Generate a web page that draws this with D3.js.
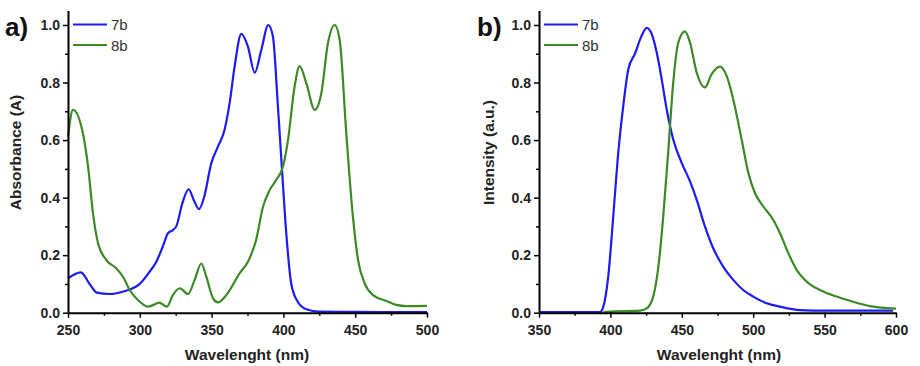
<!DOCTYPE html>
<html>
<head>
<meta charset="utf-8">
<script src="https://cdn.jsdelivr.net/npm/d3@7"></script>
<style>
  body { margin: 0; background: #fff; }
  svg { display: block; }
  .tick text { font-family: "Liberation Sans", Arial, sans-serif; font-weight: bold; font-size: 14px; fill: #222; }
</style>
</head>
<body>
<div id="chart"></div>
<script>
// a) absorption, wavelength (nm)
var absWl7b = [250, 259, 265, 270, 279, 288, 300, 306, 311.5, 316, 319.6, 323, 325.4, 329.6, 334, 337.7, 341.2, 344.7, 349.8, 354.4, 359, 362.6, 366, 370.7, 375.3, 380, 384.6, 389.5, 392.7, 396.2, 399.2, 402, 405.5, 410, 416, 425, 450, 500];
var absVal7b = [0.119, 0.14, 0.10, 0.07, 0.065, 0.073, 0.10, 0.137, 0.177, 0.23, 0.276, 0.287, 0.30, 0.38, 0.429, 0.39, 0.36, 0.40, 0.52, 0.577, 0.635, 0.73, 0.855, 0.969, 0.925, 0.834, 0.913, 1.0, 0.96, 0.716, 0.484, 0.276, 0.10, 0.038, 0.012, 0.004, 0.003, 0.002];
var absWl8b = [250, 253.5, 260.4, 264, 267.4, 271, 276.7, 283.7, 288.3, 293, 298.7, 305.7, 310, 313.5, 318.9, 323, 327.8, 333.6, 338.2, 342.8, 346.3, 351, 354.4, 360.2, 369.5, 375.3, 381, 385.8, 390.4, 395, 399.7, 403.2, 407.8, 411.3, 416, 421.8, 426.4, 431, 435.7, 439.2, 443.8, 448.4, 452, 456.6, 462.4, 471.7, 478.6, 485.6, 500];
var absVal8b = [0.612, 0.705, 0.623, 0.507, 0.345, 0.24, 0.183, 0.154, 0.125, 0.079, 0.044, 0.021, 0.028, 0.035, 0.021, 0.061, 0.085, 0.065, 0.114, 0.171, 0.125, 0.05, 0.036, 0.061, 0.137, 0.177, 0.253, 0.368, 0.426, 0.461, 0.508, 0.60, 0.786, 0.857, 0.797, 0.705, 0.762, 0.936, 1.0, 0.948, 0.623, 0.334, 0.183, 0.102, 0.061, 0.041, 0.027, 0.023, 0.024];

// b) emission
var emWl7b = [350, 392.7, 395, 398.5, 402, 405.5, 409, 412.6, 417.2, 421.9, 425.4, 428.9, 432.4, 435.9, 439.4, 444, 449.9, 455.7, 460.4, 466.2, 472, 479, 486, 493, 500, 509.4, 518.7, 532.7, 551.4, 598];
var emVal7b = [0.002, 0.002, 0.02, 0.126, 0.335, 0.556, 0.719, 0.847, 0.90, 0.963, 0.99, 0.969, 0.905, 0.812, 0.707, 0.602, 0.521, 0.457, 0.393, 0.30, 0.224, 0.16, 0.114, 0.079, 0.056, 0.033, 0.021, 0.009, 0.007, 0.007];
var emWl8b = [395, 399.7, 420.7, 425.4, 430, 433.6, 437, 440.6, 444, 447.6, 452.2, 455.7, 460.4, 466.2, 470.9, 476.7, 481.4, 486, 491.9, 496.6, 501.2, 507, 514, 518.7, 524.6, 530.4, 537.4, 546.8, 558.4, 570, 581.8, 600];
var emVal8b = [0.002, 0.004, 0.007, 0.015, 0.056, 0.16, 0.335, 0.567, 0.80, 0.94, 0.978, 0.94, 0.835, 0.783, 0.829, 0.855, 0.823, 0.742, 0.602, 0.486, 0.416, 0.37, 0.323, 0.277, 0.207, 0.149, 0.108, 0.079, 0.056, 0.038, 0.023, 0.014];

var seriesNames = ["7b", "8b"];
var yTicks = [0, 0.2, 0.4, 0.6, 0.8, 1.0];

var colors = { "7b": "#1c1cf2", "8b": "#3c8a26" };

var svg = d3.select("#chart").append("svg")
    .attr("width", 920).attr("height", 366);

function zip(xs, ys) {
    return xs.map(function (x, i) { return { x: x, y: ys[i] }; });
}

function drawPanel(opt) {
    var x = d3.scaleLinear().domain(opt.xDomain).range([opt.left, opt.right]);
    var y = d3.scaleLinear().domain([0, 1.05]).range([312.7, 10.6]);
    var g = svg.append("g");

    // lines
    var line = d3.line()
        .x(function (d) { return x(d.x) })
        .y(function (d) { return y(d.y) })
        .curve(d3.curveMonotoneX);
    opt.series.forEach(function (s) {
        g.append("path")
            .datum(zip(s.wl, s.val))
            .attr("fill", "none")
            .attr("stroke", colors[s.name])
            .attr("stroke-width", 2.2)
            .attr("d", line);
    });

    // minor ticks
    var xMinor = d3.range(opt.xDomain[0] + 25, opt.xDomain[1], 50);
    g.append("g").attr("transform", "translate(0,312.7)")
        .call(d3.axisBottom(x).tickValues(xMinor).tickSize(3).tickFormat(""))
        .call(function (a) { a.select(".domain").remove(); a.selectAll("line").attr("stroke-width", 1.5); });
    g.append("g").attr("transform", "translate(" + opt.left + ",0)")
        .call(d3.axisLeft(y).tickValues([0.1, 0.3, 0.5, 0.7, 0.9]).tickSize(3).tickFormat(""))
        .call(function (a) { a.select(".domain").remove(); a.selectAll("line").attr("stroke-width", 1.5); });

    // major axes
    var xTicks = d3.range(opt.xDomain[0], opt.xDomain[1] + 1, 50);
    g.append("g").attr("transform", "translate(0,312.7)")
        .call(d3.axisBottom(x).tickValues(xTicks).tickSize(5).tickSizeOuter(0).tickPadding(7))
        .call(function (a) {
            a.select(".domain").attr("stroke-width", 2);
            a.selectAll("line").attr("stroke-width", 1.5);
        });
    g.append("g").attr("transform", "translate(" + opt.left + ",0)")
        .call(d3.axisLeft(y).tickValues(yTicks).tickSize(5).tickSizeOuter(0).tickPadding(3).tickFormat(d3.format(".1f")))
        .call(function (a) {
            a.select(".domain").attr("stroke-width", 2);
            a.selectAll("line").attr("stroke-width", 1.5);
        });

    // axis titles
    g.append("text")
        .attr("x", opt.xTitleX).attr("y", 360)
        .attr("text-anchor", "middle")
        .style("font-family", "Liberation Sans, Arial, sans-serif")
        .style("font-weight", "bold").style("font-size", "15.5px").attr("fill", "#222")
        .text("Wavelenght (nm)");
    g.append("text")
        .attr("transform", "translate(" + opt.yTitleX + ",152.5) rotate(-90)")
        .attr("text-anchor", "middle")
        .style("font-family", "Liberation Sans, Arial, sans-serif")
        .style("font-weight", "bold").style("font-size", "15.5px").attr("fill", "#222")
        .text(opt.yTitle);

    // panel label
    g.append("text")
        .attr("x", opt.labelX).attr("y", 36)
        .style("font-family", "Liberation Sans, Arial, sans-serif")
        .style("font-weight", "bold").style("font-size", "26px").attr("fill", "#111")
        .text(opt.label);

    // legend
    seriesNames.forEach(function (n, i) {
        var ly = 24.5 + i * 20.5;
        g.append("line")
            .attr("x1", opt.left + 5).attr("x2", opt.left + 39)
            .attr("y1", ly).attr("y2", ly)
            .attr("stroke", colors[n]).attr("stroke-width", 2.2);
        g.append("text")
            .attr("x", opt.left + 43).attr("y", ly + 5.5)
            .style("font-family", "Liberation Sans, Arial, sans-serif")
            .style("font-size", "15px").attr("fill", "#333")
            .text(n);
    });
}

drawPanel({
    xDomain: [250, 500], left: 68, right: 427, xTitleX: 247,
    yTitle: "Absorbance (A)", yTitleX: 21, label: "a)", labelX: 5,
    series: [
        { name: "7b", wl: absWl7b, val: absVal7b },
        { name: "8b", wl: absWl8b, val: absVal8b }
    ]
});
drawPanel({
    xDomain: [350, 600], left: 539, right: 896, xTitleX: 719,
    yTitle: "Intensity (a.u.)", yTitleX: 494, label: "b)", labelX: 477,
    series: [
        { name: "7b", wl: emWl7b, val: emVal7b },
        { name: "8b", wl: emWl8b, val: emVal8b }
    ]
});
</script>
</body>
</html>
